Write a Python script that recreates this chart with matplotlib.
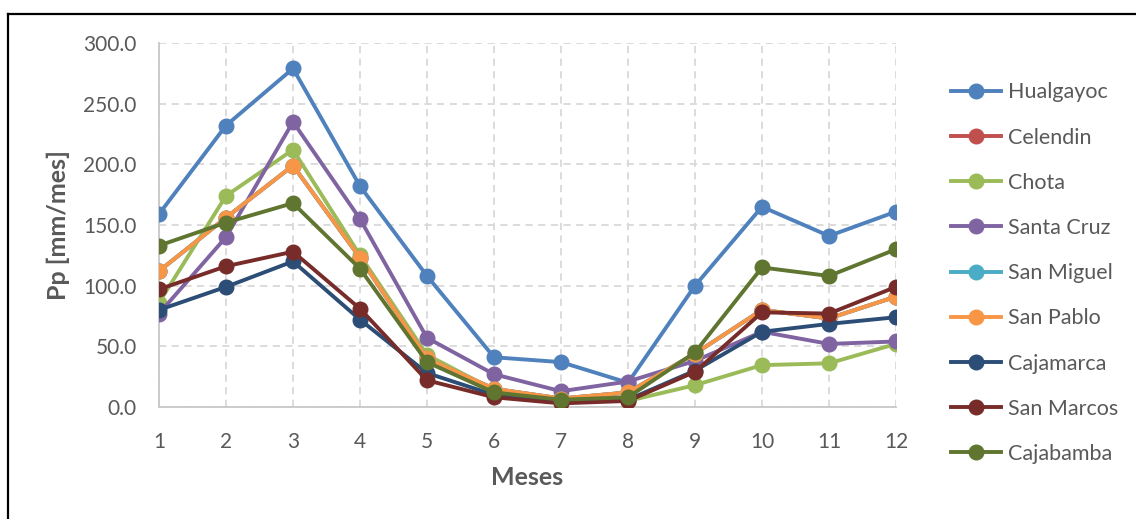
import numpy as np
import matplotlib.pyplot as plt
from matplotlib.lines import Line2D

plt.rcParams['font.family'] = ['Lato', 'DejaVu Sans']

meses = [1, 2, 3, 4, 5, 6, 7, 8, 9, 10, 11, 12]

hualgayoc  = [159, 232, 279, 182, 108, 41, 37, 20, 100, 165, 141, 161]
san_pablo  = [112, 156, 199, 123, 40, 15, 7, 12, 44, 80, 73, 91]
celendin   = san_pablo          # hidden under San Pablo
san_miguel = san_pablo          # hidden under San Pablo
chota      = [86, 174, 212, 125, 43, 14, 6, 5, 18, 34.5, 36, 52]
santa_cruz = [77, 140, 235, 155, 57, 27, 13, 21, 38, 62, 52, 54]
cajamarca  = [80, 99, 120, 72, 28, 10, 5, 6, 30, 62, 68.5, 74]
san_marcos = [97, 116, 128, 81, 22, 8, 3, 5, 29, 78, 77, 99]
cajabamba  = [133, 152, 168, 114, 37, 12, 6, 8, 45, 115, 108, 130]

series = [
    ('Hualgayoc', hualgayoc, '#4f81bd'),
    ('Celendin', celendin, '#c0504d'),
    ('Chota', chota, '#9bbb59'),
    ('Santa Cruz', santa_cruz, '#8064a2'),
    ('San Miguel', san_miguel, '#4bacc6'),
    ('San Pablo', san_pablo, '#f79646'),
    ('Cajamarca', cajamarca, '#2c4d75'),
    ('San Marcos', san_marcos, '#772c2a'),
    ('Cajabamba', cajabamba, '#5f7530'),
]

fig = plt.figure(figsize=(11.36, 5.19), dpi=100)
ax = fig.add_axes([159/1136, 1-407/519, (896-159)/1136, (407-43)/519])

for name, vals, col in series:
    ax.plot(meses, vals, color=col, lw=2.8, marker='o', ms=10.5, label=name, zorder=3)

ax.set_xlim(1, 12)
ax.set_ylim(0, 300)
ax.set_xticks(meses)
ax.set_yticks(np.arange(0, 301, 50))
ax.set_yticklabels(['%.1f' % v for v in np.arange(0, 301, 50)])
ax.tick_params(length=0, labelsize=15, colors='#595959')
ax.tick_params(axis='x', pad=18)
ax.tick_params(axis='y', pad=16)
ax.grid(True, color='#d9d9d9', ls=(0, (4, 3)), lw=1.3)
for s in ['top', 'right']:
    ax.spines[s].set_visible(False)
for s in ['left', 'bottom']:
    ax.spines[s].set_color('#c8c8c8')
    ax.spines[s].set_linewidth(1.3)
ax.set_xlabel('Meses', fontsize=18, fontweight='bold', color='#595959', labelpad=10)
ax.set_ylabel('Pp [mm/mes]', fontsize=18, fontweight='bold', color='#595959', labelpad=10)
ax.set_clip_on(False)

handles = [Line2D([0], [0], color=c, lw=2.8, marker='o', ms=10.5) for _, _, c in series]
fig.legend(handles, [n for n, _, _ in series], loc='upper left',
           bbox_to_anchor=(932/1136, 1-63/519), frameon=False, fontsize=15.5,
           labelcolor='#595959', handlelength=2.3, labelspacing=1.17, handletextpad=0.35)

# outer border of the chart
fig.add_artist(Line2D([8/1136, 8/1136], [0, 1-14/519], color='black', lw=1.6))
fig.add_artist(Line2D([8/1136, 1], [1-14/519, 1-14/519], color='black', lw=1.6))

fig.savefig('out.png', dpi=100)
